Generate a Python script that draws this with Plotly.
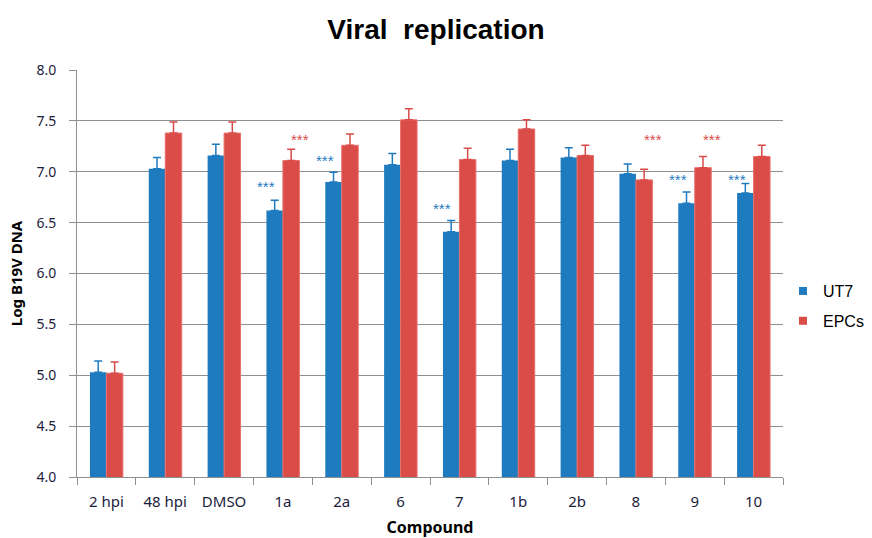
import plotly.graph_objects as go

# Compounds on the x axis
compounds = ["2 hpi", "48 hpi", "DMSO", "1a", "2a", "6", "7", "1b", "2b", "8", "9", "10"]

# Mean log B19V DNA per cell type
ut7_mean = [5.03, 7.03, 7.16, 6.62, 6.90, 7.07, 6.41, 7.11, 7.14, 6.98, 6.69, 6.79]
epc_mean = [5.02, 7.38, 7.38, 7.11, 7.26, 7.51, 7.12, 7.42, 7.16, 6.92, 7.04, 7.15]

# Upper error (SD)
ut7_err = [0.11, 0.11, 0.11, 0.10, 0.095, 0.11, 0.11, 0.11, 0.095, 0.095, 0.11, 0.095]
epc_err = [0.11, 0.11, 0.11, 0.11, 0.11, 0.11, 0.11, 0.09, 0.10, 0.105, 0.11, 0.11]

# Significance markers: (compound, label level)
ut7_sig = [("1a", 6.89), ("2a", 7.15), ("7", 6.68), ("9", 6.96), ("10", 6.96)]
epc_sig = [("1a", 7.36), ("8", 7.36), ("9", 7.36)]

BLUE = "#1f7bbf"
RED = "#d94c48"
TICK_COLOR = "#1c1c3c"
GRID = "#8f8f8f"

fig = go.Figure()
fig.add_trace(go.Bar(
    name="UT7", x=compounds, y=ut7_mean, marker=dict(color=BLUE, line=dict(width=0)),
    error_y=dict(type="data", symmetric=False, array=ut7_err,
                 arrayminus=[0] * len(ut7_err), color=BLUE, thickness=1.5, width=4),
    showlegend=False,
))
fig.add_trace(go.Bar(
    name="EPCs", x=compounds, y=epc_mean,
    marker=dict(color=RED, line=dict(width=1, color="#e8706c")),
    error_y=dict(type="data", symmetric=False, array=epc_err,
                 arrayminus=[0] * len(epc_err), color=RED, thickness=1.5, width=4),
    showlegend=False,
))

# Compact square legend keys
for name, color in (("UT7", BLUE), ("EPCs", RED)):
    fig.add_trace(go.Scatter(
        x=[None], y=[None], mode="markers", name=name, legendgroup=name,
        marker=dict(symbol="square", size=8, color=color), showlegend=True,
    ))

annotations = []
for comp, lvl in ut7_sig:
    annotations.append(dict(x=compounds.index(comp), y=lvl, xref="x", yref="y", text="***",
                            showarrow=False, xshift=-17, yshift=-4,
                            font=dict(size=15, color=BLUE, family="Liberation Sans")))
for comp, lvl in epc_sig:
    annotations.append(dict(x=compounds.index(comp), y=lvl, xref="x", yref="y", text="***",
                            showarrow=False, xshift=17, yshift=-4,
                            font=dict(size=15, color=RED, family="Liberation Sans")))

fig.update_layout(
    width=872, height=538,
    margin=dict(l=77, r=89, t=70, b=61, autoexpand=False),
    paper_bgcolor="white", plot_bgcolor="white",
    barmode="group", bargap=0.44, bargroupgap=0,
    title=dict(text="<b>Viral  replication</b>", x=0.5, xanchor="center",
               y=0.945, yanchor="middle",
               font=dict(family="Liberation Sans", size=28, color="black")),
    font=dict(family="Noto Sans", color=TICK_COLOR),
    annotations=annotations,
    legend=dict(x=1.0, xanchor="left", y=0.42, yanchor="middle",
                font=dict(family="Liberation Sans", size=16, color="black"),
                itemwidth=30, tracegroupgap=6, bgcolor="rgba(0,0,0,0)"),
    showlegend=True,
)

fig.update_xaxes(
    title=dict(text="<b>Compound</b>", standoff=11,
               font=dict(family="Noto Sans", size=16, color="black")),
    tickfont=dict(family="Noto Sans", size=15, color=TICK_COLOR),
    showline=True, linecolor=GRID, linewidth=1,
    ticks="outside", tickson="boundaries", ticklen=7, tickcolor=GRID,
    ticklabelstandoff=11, automargin=False,
    showgrid=False,
)
fig.update_yaxes(
    title=dict(text="<b>Log B19V DNA</b>", standoff=10,
               font=dict(family="Noto Sans", size=15, color="black")),
    range=[4.0, 8.0], dtick=0.5, tickformat=".1f",
    tickfont=dict(family="Noto Sans", size=14, color=TICK_COLOR),
    showline=True, linecolor=GRID, linewidth=1,
    ticks="outside", ticklen=7, tickcolor=GRID,
    ticklabelstandoff=10, automargin=False,
    showgrid=True, gridcolor=GRID, gridwidth=1, zeroline=False,
)

fig.write_html("out.html")
